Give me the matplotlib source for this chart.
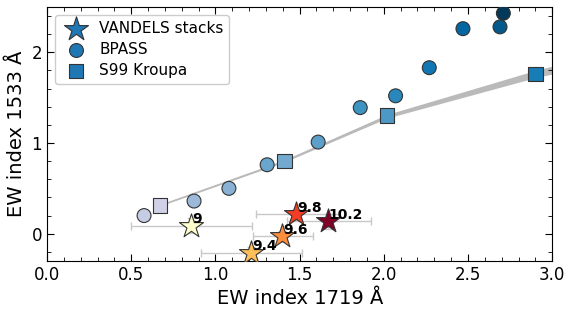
import matplotlib
matplotlib.use('Agg')
import matplotlib.pyplot as plt
from matplotlib.ticker import MultipleLocator

# VANDELS stacks (labelled by stellar mass bin)
star_labels = ['9', '9.4', '9.6', '9.8', '10.2']
star_mass = [9.0, 9.4, 9.6, 9.8, 10.2]
star_x = [0.855, 1.213, 1.395, 1.478, 1.668]
star_y = [0.09, -0.21, -0.03, 0.215, 0.135]
star_xerr_lo = [0.355, 0.298, 0.172, 0.237, 0.245]
star_xerr_hi = [0.362, 0.301, 0.182, 0.257, 0.253]
star_yerr = [0.08, 0.06, 0.06, 0.06, 0.08]

# BPASS models
bpass_x = [0.576, 0.873, 1.08, 1.307, 1.61, 1.86, 2.07, 2.27, 2.47, 2.69, 2.71]
bpass_y = [0.20, 0.36, 0.50, 0.76, 1.01, 1.39, 1.52, 1.83, 2.26, 2.28, 2.43]
bpass_shade = [0.28, 0.40, 0.45, 0.52, 0.55, 0.61, 0.66, 0.72, 0.80, 0.88, 1.0]

# S99 Kroupa models
s99_x = [0.67, 1.41, 2.02, 2.90]
s99_y = [0.31, 0.80, 1.30, 1.76]
s99_shade = [0.25, 0.50, 0.58, 0.70]

# S99 track band
band_x = [0.67, 1.41, 2.02, 2.90, 3.05]
band_lo = [0.305, 0.79, 1.275, 1.72, 1.78]
band_hi = [0.315, 0.81, 1.315, 1.80, 1.87]

fig = plt.figure(figsize=(5.74, 3.14), dpi=100)
ax = fig.add_axes([0.082, 0.169, 0.880, 0.809])

ax.fill_between(band_x, band_lo, band_hi, color='#bababa', lw=0, zorder=1)
ax.plot(band_x, [(a + b) / 2 for a, b in zip(band_lo, band_hi)], color='#bababa', lw=1, zorder=1)

cm_blue = plt.get_cmap('PuBu')
cm_star = plt.get_cmap('YlOrRd')

ax.scatter(bpass_x, bpass_y, c=[cm_blue(v) for v in bpass_shade], s=100,
           edgecolors='#333333', linewidths=0.8, zorder=3)
ax.scatter(s99_x, s99_y, c=[cm_blue(v) for v in s99_shade], s=110, marker='s',
           edgecolors='#333333', linewidths=0.8, zorder=3)

for i in range(len(star_x)):
    ax.errorbar(star_x[i], star_y[i], xerr=[[star_xerr_lo[i]], [star_xerr_hi[i]]],
                yerr=star_yerr[i], fmt='none', ecolor='#c8c8c8', elinewidth=1,
                capsize=3, zorder=2)
    col = cm_star((star_mass[i] - 9.0) / 1.2)
    ax.scatter(star_x[i], star_y[i], marker='*', s=330, color=col,
               edgecolors='#333333', linewidths=0.8, zorder=4)
    ax.text(star_x[i] + 0.005, star_y[i] - 0.005, star_labels[i], fontsize=10,
            fontweight='bold', ha='left', va='bottom', zorder=5)

# legend handles
ax.scatter([], [], marker='*', s=330, color='#1f77b4', edgecolors='#333333',
           linewidths=0.8, label='VANDELS stacks')
ax.scatter([], [], marker='o', s=100, color='#1f77b4', edgecolors='#333333',
           linewidths=0.8, label='BPASS')
ax.scatter([], [], marker='s', s=110, color='#1f77b4', edgecolors='#333333',
           linewidths=0.8, label='S99 Kroupa')
ax.legend(loc='upper left', fontsize=11, handletextpad=0.5, borderpad=0.4,
          labelspacing=0.4, framealpha=1)

ax.set_xlim(0, 3.0)
ax.set_ylim(-0.3, 2.5)
ax.xaxis.set_major_locator(MultipleLocator(0.5))
ax.xaxis.set_minor_locator(MultipleLocator(0.1))
ax.yaxis.set_major_locator(MultipleLocator(1))
ax.yaxis.set_minor_locator(MultipleLocator(0.2))
ax.tick_params(which='both', direction='in', top=True, right=True, labelsize=12)
ax.tick_params(which='major', length=5)
ax.tick_params(which='minor', length=3)
ax.set_xlabel('EW index 1719 Å', fontsize=14)
ax.set_ylabel('EW index 1533 Å', fontsize=14)

fig.savefig('out.png', dpi=100)
